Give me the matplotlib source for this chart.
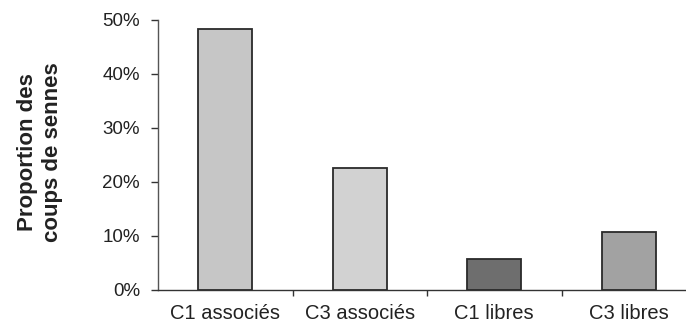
import matplotlib
matplotlib.use("Agg")
import matplotlib.pyplot as plt
from matplotlib.ticker import FixedLocator, FuncFormatter

plt.rcParams["font.family"] = ["Liberation Sans", "DejaVu Sans"]

categories = ["C1 associés", "C3 associés", "C1 libres", "C3 libres"]
values = [48.3, 22.6, 5.7, 10.7]
bar_colors = ["#c6c6c6", "#d2d2d2", "#6e6e6e", "#a2a2a2"]
yticks = [0, 10, 20, 30, 40, 50]

fig = plt.figure(figsize=(6.86, 3.28), dpi=100)
ax = fig.add_axes([158 / 686, 38 / 328, 528 / 686, 270 / 328])

x = list(range(len(categories)))
ax.bar(x, values, width=0.4, color=bar_colors, edgecolor="#2a2a2a", linewidth=1.3, zorder=3)

ax.set_xlim(-0.5, -0.5 + 528 / 134.5)
ax.set_ylim(0, 50)

ax.yaxis.set_major_locator(FixedLocator(yticks))
ax.yaxis.set_major_formatter(FuncFormatter(lambda v, p: f"{int(v)}%"))
ax.tick_params(axis="y", direction="out", length=5, width=1, colors="#333333", labelsize=13.5, pad=8)
for lbl in ax.get_yticklabels():
    lbl.set_color("#222222")

ax.set_xticks(x)
ax.set_xticklabels(categories, fontsize=14.5, color="#222222")
ax.tick_params(axis="x", length=0, pad=10)
ax.set_xticks([0.5, 1.5, 2.5], minor=True)
ax.tick_params(axis="x", which="minor", direction="out", length=4, width=1, colors="#333333")

for side in ("top", "right"):
    ax.spines[side].set_visible(False)
ax.spines["left"].set_color("#555555")
ax.spines["bottom"].set_color("#333333")
ax.spines["left"].set_linewidth(1)
ax.spines["bottom"].set_linewidth(1)

fig.text(40 / 686, (328 - 152) / 328, "Proportion des\ncoups de sennes", rotation=90,
         ha="center", va="center", fontsize=16, fontweight="bold", color="#222222",
         linespacing=1.3)

fig.savefig("out.png", dpi=100)
